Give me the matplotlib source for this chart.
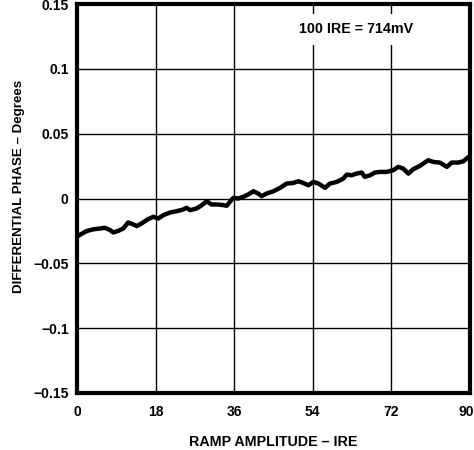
import matplotlib.pyplot as plt
from matplotlib.transforms import ScaledTranslation

# datos
ire = [0.3, 2.2, 3.7, 5.3, 6.4, 7.6, 8.3, 9.5, 10.6, 11.7, 12.9, 13.7, 14.8, 16.3,
       17.5, 18.6, 19.8, 21.3, 22.8, 24.3, 25.1, 25.9, 27.4, 28.6, 29.7, 30.8, 32.0,
       33.5, 34.3, 35.0, 35.8, 36.9, 38.1, 39.2, 40.4, 41.5, 42.3, 43.4, 45.0, 46.5,
       48.0, 49.5, 50.7, 51.8, 53.0, 54.1, 55.3, 56.8, 57.9, 59.5, 61.0, 61.8, 62.9,
       64.0, 65.2, 65.9, 67.1, 68.2, 69.4, 70.9, 72.4, 73.6, 74.7, 75.9, 77.0, 78.5,
       80.4, 81.6, 83.1, 84.7, 85.8, 87.3, 88.5, 89.4]
fase = [-0.0287, -0.0251, -0.0238, -0.0231, -0.0226, -0.0244, -0.0262, -0.0249,
        -0.0231, -0.0185, -0.0200, -0.0213, -0.0192, -0.0159, -0.0141, -0.0154,
        -0.0128, -0.0108, -0.0098, -0.0085, -0.0072, -0.0090, -0.0077, -0.0051,
        -0.0021, -0.0046, -0.0046, -0.0051, -0.0056, -0.0026, 0.0005, 0.0, 0.0013,
        0.0031, 0.0056, 0.0038, 0.0018, 0.0038, 0.0056, 0.0082, 0.0115, 0.0120,
        0.0133, 0.0120, 0.0102, 0.0128, 0.0115, 0.0082, 0.0115, 0.0128, 0.0154,
        0.0185, 0.0179, 0.0192, 0.0200, 0.0167, 0.0179, 0.0200, 0.0205, 0.0205,
        0.0218, 0.0244, 0.0231, 0.0192, 0.0226, 0.0251, 0.0295, 0.0282, 0.0277,
        0.0244, 0.0277, 0.0277, 0.0287, 0.0313]

x_ticks = [0, 18, 36, 54, 72, 90]
y_ticks = [-0.15, -0.1, -0.05, 0, 0.05, 0.1, 0.15]
y_labels = ['\u22120.15', '\u22120.1', '\u22120.05', '0', '0.05', '0.1', '0.15']

plt.rcParams['font.family'] = ['Liberation Sans', 'DejaVu Sans']
plt.rcParams['font.weight'] = 'bold'

fig = plt.figure(figsize=(4.74, 4.5), dpi=100)
ax = fig.add_axes([77 / 474, 57 / 450, 393 / 474, 389 / 450])

ax.plot(ire, fase, color='black', linewidth=3.2, solid_joinstyle='round', zorder=3)

ax.set_xlim(0, 90)
ax.set_ylim(-0.15, 0.15)
ax.set_xticks(x_ticks)
ax.set_xticklabels([str(t) for t in x_ticks])
ax.set_yticks(y_ticks)
ax.set_yticklabels(y_labels)
ax.tick_params(length=0, labelsize=10)
ax.tick_params(axis='y', pad=6)
ax.tick_params(axis='x', pad=9)
ax.grid(True, color='black', linewidth=1)

# el "90" queda pegado al borde derecho
ultima = ax.get_xticklabels()[-1]
ultima.set_horizontalalignment('right')
ultima.set_transform(ultima.get_transform() + ScaledTranslation(0.04, 0, fig.dpi_scale_trans))

for s in ax.spines.values():
    s.set_linewidth(3)

ax.text(0.71, 0.935, '100 IRE = 714mV', transform=ax.transAxes, fontsize=10.3,
        fontweight='bold', ha='center', va='center', zorder=4,
        bbox=dict(facecolor='white', edgecolor='none', pad=6))

ax.set_xlabel('RAMP AMPLITUDE \u2013 IRE', fontsize=10.3, fontweight='bold')
ax.xaxis.set_label_coords(0.5, -0.107)
ax.set_ylabel('DIFFERENTIAL PHASE \u2013 Degrees', fontsize=9.6, fontweight='bold')
ax.yaxis.set_label_coords(-0.133, 0.53)

plt.savefig('out.png', dpi=100)
